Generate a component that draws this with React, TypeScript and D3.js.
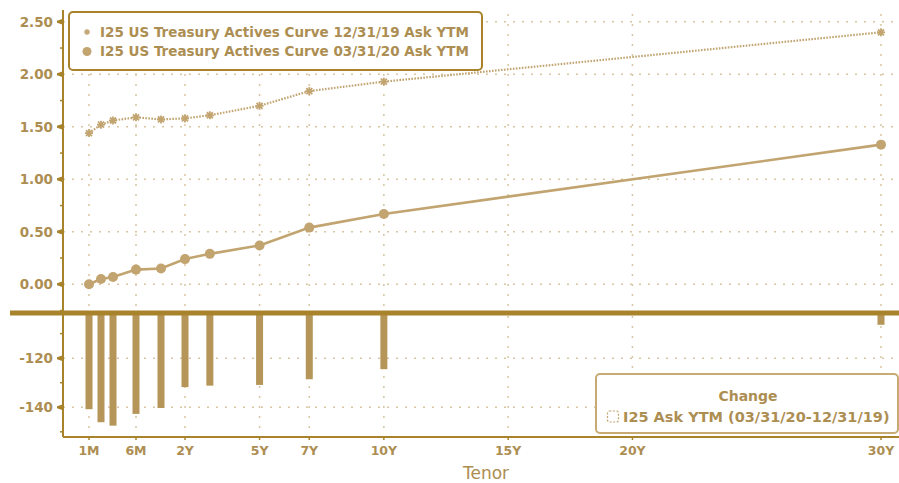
import React from "react";
import * as d3 from "d3";

const tenors = ["1M", "2M", "3M", "6M", "1Y", "2Y", "3Y", "5Y", "7Y", "10Y", "30Y"];
const tenorYears = [1 / 12, 2 / 12, 3 / 12, 0.5, 1, 2, 3, 5, 7, 10, 30];
const curveDec19 = [1.44, 1.52, 1.56, 1.59, 1.57, 1.58, 1.61, 1.7, 1.84, 1.93, 2.4];
const curveMar20 = [0.0, 0.05, 0.07, 0.14, 0.15, 0.24, 0.29, 0.37, 0.54, 0.67, 1.33];
const changeBp = [-140.8, -146.1, -147.5, -142.7, -140.3, -131.8, -131.2, -130.9, -128.6, -124.5, -106.4];

const xTickLabels = ["1M", "6M", "2Y", "5Y", "7Y", "10Y", "15Y", "20Y", "30Y"];
const xTickYears = [1 / 12, 0.5, 2, 5, 7, 10, 15, 20, 30];
const yTopTicks = [0, 0.5, 1, 1.5, 2, 2.5];
const yTopMinor = [-0.25, 0.25, 0.75, 1.25, 1.75, 2.25];
const yBotTicks = [-120, -140];
const yBotMinor = [-110, -130, -150];

const legendTop = [
  "I25 US Treasury Actives Curve 12/31/19 Ask YTM",
  "I25 US Treasury Actives Curve 03/31/20 Ask YTM",
];
const legendBotTitle = "Change";
const legendBotLabel = "I25 Ask YTM (03/31/20-12/31/19)";

const AXIS = "#a8832c";
const TEXT = "#ad8e52";
const LINE = "#c2a470";
const BAR = "#b69658";
const GRID = "#d8c6a2";
const FONT = "'DejaVu Sans', sans-serif";

export default function App() {
  const W = 899;
  const H = 483;
  const axisX = 63;
  const x = d3
    .scaleLinear()
    .domain([1 / 12, 0.25, 0.5, 1, 2, 30])
    .range([89, 113, 136, 161, 185, 881]);
  const yTop = d3.scaleLinear().domain([0, 2.5]).range([284.3, 21.8]);
  const yBot = d3.scaleLinear().domain([-102, -152]).range([314, 436.7]);
  const sepY = 313;
  const topY = 10;
  const botAxisY = 437;

  const pts1 = tenorYears.map((t, i) => [x(t), yTop(curveDec19[i])] as [number, number]);
  const pts2 = tenorYears.map((t, i) => [x(t), yTop(curveMar20[i])] as [number, number]);
  const line = d3.line();

  return (
    <svg
      width={W}
      height={H}
      style={{ position: "absolute", left: 0, top: 0, background: "#fff" }}
      fontFamily={FONT}
    >
      <rect x={0} y={0} width={W} height={H} fill="#fff" />
      {/* grid top */}
      {yTopTicks.map((v) => (
        <line key={"gh" + v} x1={axisX} x2={W} y1={yTop(v)} y2={yTop(v)} stroke={GRID} strokeWidth={1.5} strokeDasharray="2 7" />
      ))}
      {xTickYears.map((t) => (
        <line key={"gv" + t} x1={x(t)} x2={x(t)} y1={topY + 4} y2={sepY - 3} stroke={GRID} strokeWidth={1.5} strokeDasharray="2 8" />
      ))}
      {/* grid bottom */}
      {yBotTicks.map((v) => (
        <line key={"gbh" + v} x1={axisX} x2={W} y1={yBot(v)} y2={yBot(v)} stroke={GRID} strokeWidth={1.5} strokeDasharray="2 7" />
      ))}
      {xTickYears.map((t) => (
        <line key={"gbv" + t} x1={x(t)} x2={x(t)} y1={sepY + 3} y2={botAxisY} stroke={GRID} strokeWidth={1.5} strokeDasharray="2 8" />
      ))}

      {/* bars */}
      {tenorYears.map((t, i) => (
        <rect
          key={"b" + i}
          x={x(t) - 3.5}
          y={yBot(-102)}
          width={7}
          height={yBot(changeBp[i]) - yBot(-102)}
          fill={BAR}
        />
      ))}

      {/* dotted 12/31/19 curve */}
      <path d={line(pts1) || ""} fill="none" stroke={LINE} strokeWidth={2.2} strokeDasharray="1.6 1.4" />
      {pts1.map(([px, py], i) => (
        <g key={"s" + i} stroke={LINE} strokeWidth={1.8}>
          <line x1={px - 4} x2={px + 4} y1={py} y2={py} />
          <line x1={px} x2={px} y1={py - 4} y2={py + 4} />
          <line x1={px - 3} x2={px + 3} y1={py - 3} y2={py + 3} />
          <line x1={px - 3} x2={px + 3} y1={py + 3} y2={py - 3} />
        </g>
      ))}

      {/* solid 03/31/20 curve */}
      <path d={line(pts2) || ""} fill="none" stroke={LINE} strokeWidth={2.6} />
      {pts2.map(([px, py], i) => (
        <circle key={"c" + i} cx={px} cy={py} r={5} fill={LINE} />
      ))}

      {/* separator */}
      <line x1={10} x2={W} y1={sepY} y2={sepY} stroke={AXIS} strokeWidth={5} />

      {/* left axis */}
      <line x1={axisX} x2={axisX} y1={topY} y2={botAxisY} stroke={AXIS} strokeWidth={2} />
      {yTopTicks.map((v) => (
        <g key={"yt" + v}>
          <path d={`M${axisX},${yTop(v) - 3}L${axisX},${yTop(v) + 3}L${axisX - 6},${yTop(v) + 1}L${axisX - 6},${yTop(v) - 1}Z`} fill={AXIS} />
          <text x={53} y={yTop(v)} dy="0.35em" textAnchor="end" fontSize={13.5} fontWeight="bold" fill={TEXT}>
            {d3.format(".2f")(v)}
          </text>
        </g>
      ))}
      {yTopMinor.map((v) => (
        <line key={"ytm" + v} x1={axisX - 3} x2={axisX} y1={yTop(v)} y2={yTop(v)} stroke={AXIS} strokeWidth={1.5} />
      ))}
      {yBotTicks.map((v) => (
        <g key={"yb" + v}>
          <path d={`M${axisX},${yBot(v) - 3}L${axisX},${yBot(v) + 3}L${axisX - 6},${yBot(v) + 1}L${axisX - 6},${yBot(v) - 1}Z`} fill={AXIS} />
          <text x={53} y={yBot(v)} dy="0.35em" textAnchor="end" fontSize={13.5} fontWeight="bold" fill={TEXT}>
            {d3.format("d")(v).replace("−", "-")}
          </text>
        </g>
      ))}
      {yBotMinor.map((v) => (
        <line key={"ybm" + v} x1={axisX - 3} x2={axisX} y1={yBot(v)} y2={yBot(v)} stroke={AXIS} strokeWidth={1.5} />
      ))}

      {/* bottom axis */}
      <line x1={axisX} x2={W} y1={botAxisY} y2={botAxisY} stroke={AXIS} strokeWidth={2} />
      {xTickYears.map((t, i) => (
        <g key={"xt" + i}>
          <line x1={x(t)} x2={x(t)} y1={botAxisY} y2={botAxisY + 3} stroke={AXIS} strokeWidth={1.5} />
          <text x={x(t)} y={451} dy="0.35em" textAnchor="middle" fontSize={12.5} fontWeight="bold" fill={TEXT}>
            {xTickLabels[i]}
          </text>
        </g>
      ))}
      <text x={486} y={473} dy="0.35em" textAnchor="middle" fontSize={17} fill={TEXT}>
        Tenor
      </text>

      {/* top legend */}
      <rect x={69} y={12} width={413} height={58} rx={4} fill="#fff" stroke={AXIS} strokeWidth={2} />
      <g stroke={LINE} strokeWidth={1.4}>
        <line x1={84} x2={90} y1={32} y2={32} />
        <line x1={87} x2={87} y1={29} y2={35} />
        <line x1={85} x2={89} y1={30} y2={34} />
        <line x1={85} x2={89} y1={34} y2={30} />
      </g>
      <circle cx={87} cy={51.5} r={4.5} fill={LINE} />
      {legendTop.map((s, i) => (
        <text key={"lt" + i} x={100} y={32 + i * 19.5} dy="0.35em" fontSize={13.5} fontWeight="bold" fill={TEXT}>
          {s}
        </text>
      ))}

      {/* bottom legend */}
      <rect x={596} y={374} width={302} height={59} rx={4} fill="#fff" stroke={"#c8ab74"} strokeWidth={2} />
      <text x={748} y={396} dy="0.35em" textAnchor="middle" fontSize={14} fontWeight="bold" fill={TEXT}>
        {legendBotTitle}
      </text>
      <rect x={607.5} y={411} width={11} height={11} rx={2} fill="none" stroke={LINE} strokeWidth={1.2} strokeDasharray="2 1.5" />
      <text x={623} y={417} dy="0.35em" fontSize={14.5} fontWeight="bold" fill={TEXT}>
        {legendBotLabel}
      </text>
    </svg>
  );
}
